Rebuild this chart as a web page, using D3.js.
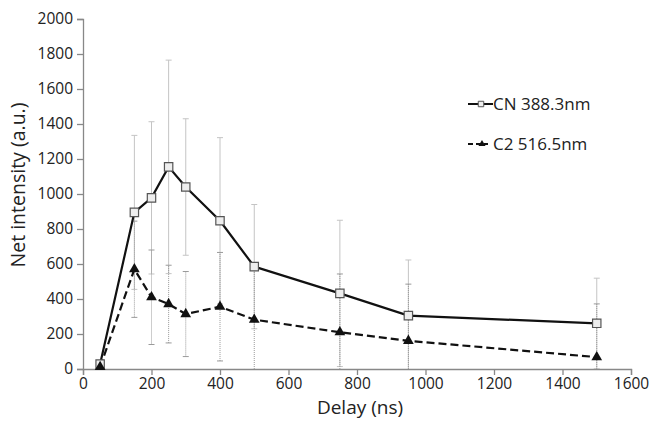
<!DOCTYPE html>
<html><head><meta charset="utf-8">
<script src="https://cdn.jsdelivr.net/npm/d3@7"></script>
<style>body{margin:0;background:#fff}svg{display:block}text{font-family:"Open Sans",sans-serif;fill:#222}</style>
</head><body><svg id="c" width="652" height="423"></svg>
<script>
const delays = [50,150,200,250,300,400,500,750,950,1500];
const cnValues = [28,895,978,1155,1040,847,585,432,305,261];
const cnErrors = [0,440,435,610,390,475,355,418,318,258];
const c2Values = [12,570,410,371,314,356,282,210,161,68];
const c2Errors = [0,275,270,222,243,310,285,333,324,304];
const xTicks = [0,200,400,600,800,1000,1200,1400,1600];
const yTicks = [0,200,400,600,800,1000,1200,1400,1600,1800,2000];
const seriesNames = ["CN 388.3nm","C2 516.5nm"];

const svg = d3.select("#c");
const x = d3.scaleLinear().domain([0,1600]).range([83,631]);
const y = d3.scaleLinear().domain([0,2000]).range([369,19]);
const axisCol = "#888";

// axes
const gx = svg.append("g").attr("transform","translate(0,369)")
  .call(d3.axisBottom(x).tickValues(xTicks).tickFormat(d3.format("d")).tickSizeOuter(0).tickSize(6).tickPadding(3));
const gy = svg.append("g").attr("transform","translate(83,0)")
  .call(d3.axisLeft(y).tickValues(yTicks).tickFormat(d3.format("d")).tickSizeOuter(0).tickSize(6).tickPadding(4));
[gx,gy].forEach(g=>{
  g.select(".domain").attr("stroke",axisCol).attr("stroke-width",1.3);
  g.selectAll(".tick line").attr("stroke",axisCol).attr("stroke-width",1.3);
  g.selectAll(".tick text").style("font-family","'Open Sans',sans-serif").style("font-size","15.5px").attr("fill","#222");
});

svg.append("text").attr("x",360).attr("y",414).attr("text-anchor","middle").style("font-size","19px").text("Delay (ns)");
svg.append("text").attr("transform","translate(25,185) rotate(-90)").attr("text-anchor","middle").style("font-size","19.5px").text("Net intensity (a.u.)");

const cn = delays.map((d,i)=>({x:d,v:cnValues[i],e:cnErrors[i]}));
const c2 = delays.map((d,i)=>({x:d,v:c2Values[i],e:c2Errors[i]}));

function errBars(data,col,dash){
  const g = svg.append("g");
  data.filter(d=>d.e>0).forEach(d=>{
    const lo = Math.max(0,d.v-d.e), hi = d.v+d.e;
    g.append("line").attr("x1",x(d.x)).attr("x2",x(d.x)).attr("y1",y(lo)).attr("y2",y(hi))
      .attr("stroke",col).attr("stroke-width",1).attr("stroke-dasharray",dash);
    [hi].concat(d.v-d.e>=0?[lo]:[]).forEach(v=>{
      g.append("line").attr("x1",x(d.x)-3).attr("x2",x(d.x)+3).attr("y1",y(v)).attr("y2",y(v))
        .attr("stroke",col).attr("stroke-width",1);
    });
  });
}
errBars(cn,"#c4c4c4",null);
errBars(c2,"#9a9a9a","1,1");

const line = d3.line().x(d=>x(d.x)).y(d=>y(d.v));
svg.append("path").datum(cn).attr("d",line).attr("fill","none").attr("stroke","#111").attr("stroke-width",2.2);
svg.append("path").datum(c2).attr("d",line).attr("fill","none").attr("stroke","#111").attr("stroke-width",2.2).attr("stroke-dasharray","8,4");

const sq = d3.symbol().type(d3.symbolSquare).size(70);
const tri = d3.symbol().type(d3.symbolTriangle).size(50);
svg.append("g").selectAll("path").data(cn).join("path").attr("d",sq)
  .attr("transform",d=>`translate(${x(d.x)},${y(d.v)})`).attr("fill","#eee").attr("stroke","#555").attr("stroke-width",1.2);
svg.append("g").selectAll("path").data(c2).join("path").attr("d",tri)
  .attr("transform",d=>`translate(${x(d.x)},${y(d.v)})`).attr("fill","#111");

// legend
const lg = svg.append("g");
lg.append("line").attr("x1",468).attr("x2",493).attr("y1",104).attr("y2",104).attr("stroke","#111").attr("stroke-width",2);
lg.append("path").attr("d",d3.symbol().type(d3.symbolSquare).size(30)).attr("transform","translate(481,104)").attr("fill","#eee").attr("stroke","#555");
lg.append("text").attr("x",493).attr("y",110).style("font-size","17px").text(seriesNames[0]);
lg.append("line").attr("x1",468).attr("x2",488).attr("y1",144).attr("y2",144).attr("stroke","#111").attr("stroke-width",2).attr("stroke-dasharray","5,3");
lg.append("path").attr("d",d3.symbol().type(d3.symbolTriangle).size(22)).attr("transform","translate(482,144)").attr("fill","#111");
lg.append("text").attr("x",493).attr("y",150).style("font-size","17px").text(seriesNames[1]);
</script></body></html>
